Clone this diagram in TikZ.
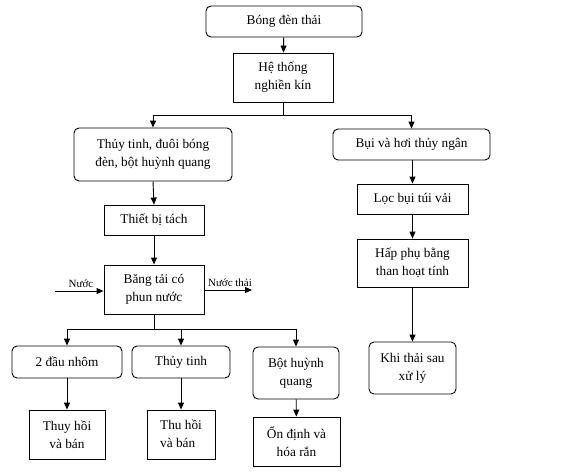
\documentclass[tikz,border=0pt]{standalone}
\usepackage{fontspec}
\setmainfont{Liberation Serif}
\usetikzlibrary{arrows.meta}
\begin{document}
\begin{tikzpicture}[x=1pt,y=-1pt,
  every node/.style={font=\fontsize{13.3}{18}\selectfont, align=center, inner sep=1pt},
  rbox/.style={draw, line width=0.9pt, rounded corners=5pt},
  sbox/.style={draw, line width=0.9pt},
  conn/.style={line width=0.9pt},
  arr/.style={conn, -{Triangle[length=7pt,width=6pt]}},
  lbl/.style={font=\fontsize{11}{13}\selectfont, inner sep=0pt}]
\useasboundingbox (0,0) rectangle (579,475);
% boxes
\node[rbox, minimum width=156pt, minimum height=31pt] (bong) at (284,21.5) {Bóng đèn thải};
\node[sbox, minimum width=100pt, minimum height=49pt] (nghien) at (283,77.5) {Hệ thống\\nghiền kín};
\node[rbox, minimum width=158pt, minimum height=53pt] (tt) at (153,154.5) {Thủy tinh, đuôi bóng\\đèn, bột huỳnh quang};
\node[rbox, minimum width=157pt, minimum height=31pt] (bui) at (411.5,144.5) {Bụi và hơi thủy ngân};
\node[sbox, minimum width=100pt, minimum height=30pt] (tach) at (154,220) {Thiết bị tách};
\node[sbox, minimum width=100pt, minimum height=49pt] (bang) at (154,289.5) {Băng tải có\\phun nước};
\node[sbox, minimum width=111pt, minimum height=30pt] (loc) at (412.5,199) {Lọc bụi túi vải};
\node[sbox, minimum width=111pt, minimum height=48pt] (hap) at (412.5,263) {Hấp phụ bằng\\than hoạt tính};
\node[rbox, minimum width=110pt, minimum height=32pt] (nhom) at (67,362) {2 đầu nhôm};
\node[rbox, minimum width=98pt, minimum height=32pt] (ttinh) at (181,362) {Thủy tinh};
\node[rbox, minimum width=86pt, minimum height=52pt] (bot) at (296,373) {Bột huỳnh\\quang};
\node[rbox, minimum width=87pt, minimum height=52pt] (khi) at (412.5,368) {Khi thải sau\\xử lý};
\node[sbox, minimum width=76pt, minimum height=49pt] (thuy) at (67,434.5) {Thuy hồi\\và bán};
\node[sbox, minimum width=68pt, minimum height=49pt] (thu) at (181,434.5) {\begin{tabular}{@{}l@{}}Thu hồi\\và bán\end{tabular}};
\node[sbox, minimum width=87pt, minimum height=49pt] (ond) at (296.5,441.5) {Ổn định và\\hóa rắn};
% connectors
\coordinate (j1) at (283,115);
\coordinate (j2) at (154,329);
\coordinate (win) at (55,291);
\coordinate (wout) at (252,290);
\draw[arr] (bong) -- (nghien);
\draw[conn] (nghien.south) -- (j1);
\draw[arr] (j1) -| (tt.north);
\draw[arr] (j1) -| (bui.north);
\draw[arr] (tt.south) -- (tach.north);
\draw[arr] (tach) -- (bang);
\draw[arr] (bui.south -| loc.north) -- (loc.north);
\draw[arr] (loc) -- (hap);
\draw[arr] (hap) -- (khi);
\draw[arr] (win) -- (win -| bang.west);
\draw[arr] (bang.east |- wout) -- (wout);
\draw[conn] (bang.south) -- (j2);
\draw[arr] (j2) -| (nhom.north);
\draw[arr] (j2) -| (ttinh.north);
\draw[arr] (j2) -| (bot.north);
\draw[arr] (nhom) -- (thuy);
\draw[arr] (ttinh) -- (thu);
\draw[arr] (bot) -- (ond);
% labels
\node[lbl] (lnuoc) at (81,284) {Nước};
\node[lbl] (lthai) at (230,283) {Nước thải};
\end{tikzpicture}
\end{document}
